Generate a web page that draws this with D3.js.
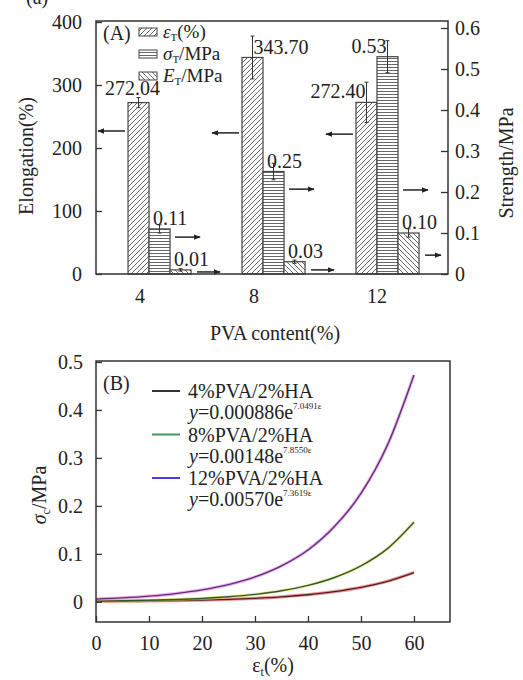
<!DOCTYPE html>
<html><head><meta charset="utf-8">
<script src="https://cdn.jsdelivr.net/npm/d3@7"></script>
<style>
body{margin:0;background:#fff}
svg{display:block}
svg text{font-family:"Liberation Serif","Times New Roman",Times,"DejaVu Serif",serif !important;fill:#222}
</style>
</head><body>
<svg id="c" width="523" height="680"></svg>
<script>
// ---------- Panel A data ----------
const groups = ["4", "8", "12"];
const elongation = [272.04, 343.70, 272.40];
const elongationErr = [8, 34, 32];
const strength = [0.11, 0.25, 0.53];
const strengthErr = [0.01, 0.02, 0.039];
const modulus = [0.01, 0.03, 0.10];
const modulusErr = [0.003, 0.004, 0.01];
const leftTicks = [0, 100, 200, 300, 400];
const rightTicks = [0, 0.1, 0.2, 0.3, 0.4, 0.5, 0.6];
const arrowElong = [227, 224, 222];
const arrowStrength = [0.090, 0.207, 0.205];
const arrowModulus = [0.005, 0.010, 0.046];

// ---------- Panel B data ----------
const strain = [0, 5, 10, 15, 20, 25, 30, 35, 40, 45, 50, 55, 60];
const stress4 = [0.001, 0.0013, 0.0018, 0.0026, 0.0036, 0.0052, 0.0073, 0.0104, 0.0149, 0.0212, 0.0301, 0.0428, 0.061];
const stress8 = [0.0015, 0.0022, 0.0032, 0.0048, 0.0071, 0.0106, 0.0156, 0.0231, 0.0342, 0.0508, 0.0751, 0.111, 0.166];
const stress12 = [0.0057, 0.0082, 0.0119, 0.0172, 0.0249, 0.0359, 0.0519, 0.075, 0.108, 0.157, 0.226, 0.327, 0.473];
const bXTicks = [0, 10, 20, 30, 40, 50, 60];
const bYTicks = [0, 0.1, 0.2, 0.3, 0.4, 0.5];
const bLegend = ["4%PVA/2%HA", "8%PVA/2%HA", "12%PVA/2%HA"];
const bCoef = ["0.000886", "0.00148", "0.00570"];
const bExp = ["7.0491\u03b5", "7.8550\u03b5", "7.3619\u03b5"];

const FONT = "'Liberation Serif','Times New Roman',Times,'DejaVu Serif',serif";
const svg = d3.select("#c");
const defs = svg.append("defs");
function pattern(id, w, h, d) {
  const p = defs.append("pattern").attr("id", id).attr("patternUnits", "userSpaceOnUse")
    .attr("width", w).attr("height", h);
  p.append("rect").attr("width", w).attr("height", h).attr("fill", "#fff");
  p.append("path").attr("d", d).attr("stroke", "#555").attr("stroke-width", 0.9).attr("fill", "none");
}
pattern("hFwd", 5, 5, "M-1,1 l2,-2 M0,5 l5,-5 M4,6 l2,-2");
pattern("hHor", 4, 3, "M0,1.5 h4");
pattern("hBack", 5, 5, "M-1,4 l2,2 M0,0 l5,5 M4,-1 l2,2");
defs.append("marker").attr("id", "arr").attr("viewBox", "0 0 10 10").attr("refX", 9).attr("refY", 5)
  .attr("markerWidth", 7).attr("markerHeight", 7).attr("markerUnits", "userSpaceOnUse").attr("orient", "auto")
  .append("path").attr("d", "M0,1 L10,5 L0,9 z").attr("fill", "#222");

// stray crop fragment at top-left
svg.append("text").attr("x", 26).attr("y", 4).attr("font-size", 20).text("(a)");

// ---------- Panel A ----------
const A = {l: 96, r: 448, t: 21, b: 274};
const xA = d3.scaleBand().domain(groups).range([A.l, A.r]).paddingInner(0.447).paddingOuter(0.2675).align(0.525);
const bw = xA.bandwidth() / 3;
const yL = d3.scaleLinear().domain([0, 400]).range([A.b, 22]);
const yR = d3.scaleLinear().domain([0, 0.6]).range([A.b, 28]);
const gA = svg.append("g");

const series = [
  {vals: elongation, err: elongationErr, y: yL, fill: "url(#hFwd)", fmt: d3.format(".2f")},
  {vals: strength, err: strengthErr, y: yR, fill: "url(#hHor)", fmt: d3.format(".2f")},
  {vals: modulus, err: modulusErr, y: yR, fill: "url(#hBack)", fmt: d3.format(".2f")}
];
const anchors = [["middle", "start", "end"], ["start", "start", "end"], ["start", "start", "start"]];

series.forEach((s, si) => {
  groups.forEach((g, gi) => {
    const x0 = xA(g) + si * bw;
    const v = s.vals[gi];
    gA.append("rect").attr("x", x0).attr("y", s.y(v)).attr("width", bw).attr("height", A.b - s.y(v))
      .attr("fill", s.fill).attr("stroke", "#444").attr("stroke-width", 1.2);
    const cx = x0 + bw / 2;
    const e = s.err[gi];
    gA.append("line").attr("x1", cx).attr("x2", cx).attr("y1", s.y(v + e)).attr("y2", s.y(v - e))
      .attr("stroke", "#333").attr("stroke-width", 1);
    [v + e, v - e].forEach(t => gA.append("line").attr("x1", cx - 2).attr("x2", cx + 2)
      .attr("y1", s.y(t)).attr("y2", s.y(t)).attr("stroke", "#333").attr("stroke-width", 1));
    const an = anchors[si][gi];
    let lx = an === "middle" ? cx - 6 : an === "end" ? cx - 1 : (si === 0 ? cx + 1 : x0 + 4);
    let ly = an === "middle" ? s.y(v + e) - 3 : s.y(v) - 4;
    if (si === 0 && gi === 1) ly = s.y(v) - 3;
    gA.append("text").attr("x", lx).attr("y", ly).attr("text-anchor", an).attr("font-size", 20).text(s.fmt(v));
  });
});

// arrows
groups.forEach((g, gi) => {
  const x0 = xA(g);
  gA.append("line").attr("x1", x0 - 3).attr("x2", x0 - 30).attr("y1", yL(arrowElong[gi])).attr("y2", yL(arrowElong[gi]))
    .attr("stroke", "#222").attr("stroke-width", 1.5).attr("marker-end", "url(#arr)");
  const xs = x0 + 2 * bw + 5;
  gA.append("line").attr("x1", xs).attr("x2", xs + 25).attr("y1", yR(arrowStrength[gi])).attr("y2", yR(arrowStrength[gi]))
    .attr("stroke", "#222").attr("stroke-width", 1.5).attr("marker-end", "url(#arr)");
  const xm = x0 + 3 * bw + 6;
  gA.append("line").attr("x1", xm).attr("x2", xm + (gi === 2 ? 16 : 23)).attr("y1", yR(arrowModulus[gi])).attr("y2", yR(arrowModulus[gi]))
    .attr("stroke", "#222").attr("stroke-width", 1.5).attr("marker-end", "url(#arr)");
});

// frame and axes
gA.append("rect").attr("x", A.l).attr("y", A.t).attr("width", A.r - A.l).attr("height", A.b - A.t)
  .attr("fill", "none").attr("stroke", "#333").attr("stroke-width", 1.5);
const axL = gA.append("g").attr("transform", `translate(${A.l},0)`)
  .call(d3.axisLeft(yL).tickValues(leftTicks).tickSize(-6).tickPadding(14).tickFormat(d3.format("d")));
const axR = gA.append("g").attr("transform", `translate(${A.r},0)`)
  .call(d3.axisRight(yR).tickValues(rightTicks).tickSize(-7).tickPadding(7).tickFormat(d => d === 0 ? "0" : d3.format(".1f")(d)));
[axL, axR].forEach(a => {
  a.attr("font-family", FONT);
  a.select(".domain").remove();
  a.selectAll(".tick line").attr("stroke", "#333").attr("stroke-width", 1.3);
  a.selectAll(".tick text").attr("font-size", 20).attr("fill", "#222");
});
groups.forEach(g => gA.append("text").attr("x", xA(g) + 7 + (g.length > 1 ? 4 : 0)).attr("y", 303).attr("font-size", 20).text(g));
gA.append("text").attr("x", 275).attr("y", 340).attr("text-anchor", "middle").attr("font-size", 20).text("PVA content(%)");
gA.append("text").attr("transform", "translate(33,156) rotate(-90)").attr("text-anchor", "middle").attr("font-size", 20).text("Elongation(%)");
gA.append("text").attr("transform", "translate(513,163) rotate(-90)").attr("text-anchor", "middle").attr("font-size", 20).text("Strength/MPa");

// legend A
gA.append("text").attr("x", 103).attr("y", 40).attr("font-size", 20).text("(A)");
const legA = [
  {fill: "url(#hFwd)", y: 33, parts: [["\u03b5", "italic"], ["T", "sub"], ["(%)", ""]]},
  {fill: "url(#hHor)", y: 55, parts: [["\u03c3", "italic"], ["T", "sub"], ["/MPa", ""]]},
  {fill: "url(#hBack)", y: 77, parts: [["E", "italic"], ["T", "sub"], ["/MPa", ""]]}
];
legA.forEach(d => {
  gA.append("rect").attr("x", 139).attr("y", d.y - 5).attr("width", 18).attr("height", 8)
    .attr("fill", d.fill).attr("stroke", "#444").attr("stroke-width", 1);
  const t = gA.append("text").attr("x", 163).attr("y", d.y + 5).attr("font-size", 19);
  d.parts.forEach(p => {
    const ts = t.append("tspan").text(p[0]);
    if (p[1] === "italic") ts.attr("font-style", "italic");
    if (p[1] === "sub") ts.attr("font-size", 11).attr("dy", 3);
    if (p[1] === "") ts.attr("dy", -3);
  });
});

// ---------- Panel B ----------
const B = {l: 96, r: 450, t: 361, b: 622};
const xB = d3.scaleLinear().domain([0, 66.8]).range([B.l, B.r]);
const yB = d3.scaleLinear().domain([-0.042, 0.502]).range([B.b, B.t]);
const gB = svg.append("g");
const curves = [
  {vals: stress4, halo: "#d84040", core: "#5a1e22"},
  {vals: stress8, halo: "#e6d84a", core: "#2f5a30"},
  {vals: stress12, halo: "#e070d0", core: "#5e2e80"}
];
const line = d3.line().curve(d3.curveMonotoneX);
curves.forEach(c => {
  const pts = strain.map((s, i) => [xB(s), yB(c.vals[i])]);
  gB.append("path").attr("d", line(pts)).attr("fill", "none").attr("stroke", c.halo).attr("stroke-width", 3.2).attr("stroke-opacity", 0.55);
  gB.append("path").attr("d", line(pts)).attr("fill", "none").attr("stroke", c.core).attr("stroke-width", 1.4);
});
gB.append("rect").attr("x", B.l).attr("y", B.t).attr("width", B.r - B.l).attr("height", B.b - B.t)
  .attr("fill", "none").attr("stroke", "#333").attr("stroke-width", 1.5);
const axBx = gB.append("g").attr("transform", `translate(0,${B.b})`)
  .call(d3.axisBottom(xB).tickValues(bXTicks).tickSize(-6).tickPadding(14).tickFormat(d3.format("d")));
const axBy = gB.append("g").attr("transform", `translate(${B.l},0)`)
  .call(d3.axisLeft(yB).tickValues(bYTicks).tickSize(-6).tickPadding(13).tickFormat(d => d === 0 ? "0" : d3.format(".1f")(d)));
[axBx, axBy].forEach(a => {
  a.attr("font-family", FONT);
  a.select(".domain").remove();
  a.selectAll(".tick line").attr("stroke", "#333").attr("stroke-width", 1.3);
  a.selectAll(".tick text").attr("font-size", 20).attr("fill", "#222");
});
const xl = gB.append("text").attr("x", 273).attr("y", 672).attr("text-anchor", "middle").attr("font-size", 20);
xl.append("tspan").text("\u03b5");
xl.append("tspan").attr("font-size", 12).attr("dy", 4).text("t");
xl.append("tspan").attr("dy", -4).text("(%)");
const yl = gB.append("text").attr("transform", "translate(46,495) rotate(-90)").attr("text-anchor", "middle").attr("font-size", 20);
yl.append("tspan").attr("font-style", "italic").text("\u03c3");
yl.append("tspan").attr("font-size", 12).attr("dy", 4).text("c");
yl.append("tspan").attr("dy", -4).text("/MPa");

gB.append("text").attr("x", 103).attr("y", 390).attr("font-size", 20).text("(B)");
const legColors = ["#333333", "#3c9a60", "#4a3af0"];
bLegend.forEach((name, i) => {
  const y0 = 391 + i * 43.5;
  gB.append("line").attr("x1", 152).attr("x2", 180).attr("y1", y0).attr("y2", y0).attr("stroke", legColors[i]).attr("stroke-width", 2);
  gB.append("text").attr("x", 188).attr("y", y0 + 7).attr("font-size", 20).text(name);
  const t = gB.append("text").attr("x", 189).attr("y", y0 + 28).attr("font-size", 20);
  t.append("tspan").attr("font-style", "italic").text("y");
  t.append("tspan").text("=" + bCoef[i] + "e");
  t.append("tspan").attr("font-size", 9).attr("dy", -10).text(bExp[i]);
});
</script>
</body></html>
